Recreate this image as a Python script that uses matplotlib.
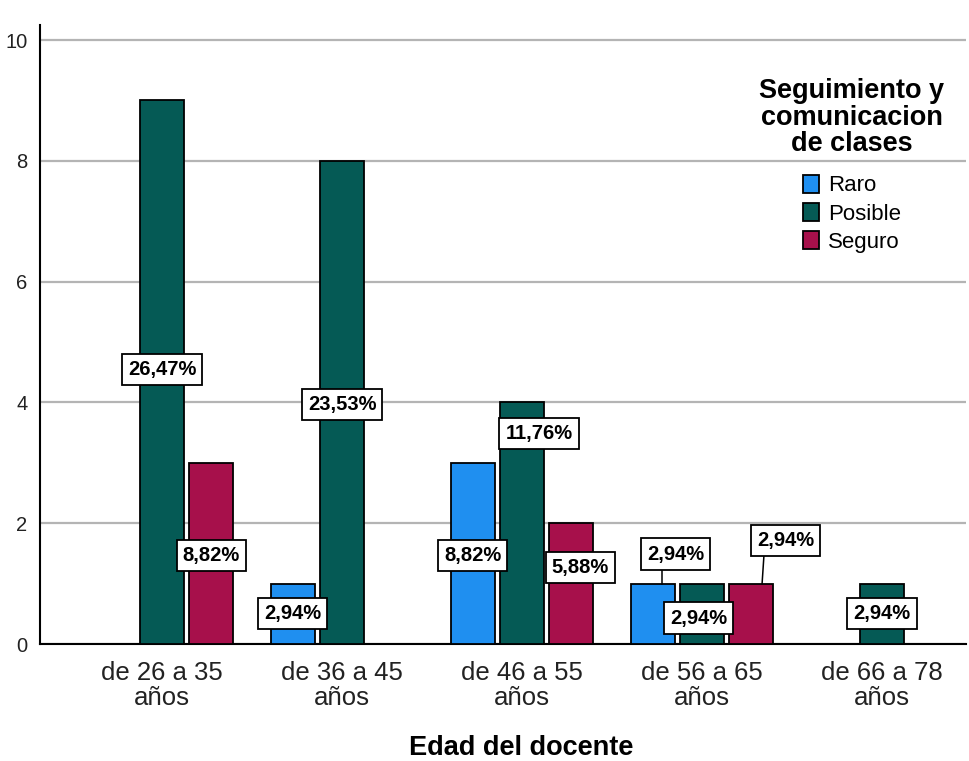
import matplotlib
matplotlib.use("Agg")
import matplotlib.pyplot as plt
import numpy as np
from matplotlib.patches import Patch

categories = ["de 26 a 35\naños", "de 36 a 45\naños", "de 46 a 55\naños",
              "de 56 a 65\naños", "de 66 a 78\naños"]
series_names = ["Raro", "Posible", "Seguro"]
raro = [0, 1, 3, 1, 0]
posible = [9, 8, 4, 1, 1]
seguro = [3, 0, 2, 1, 0]
percent_labels = {
    "Raro": ["", "2,94%", "8,82%", "2,94%", ""],
    "Posible": ["26,47%", "23,53%", "11,76%", "2,94%", "2,94%"],
    "Seguro": ["8,82%", "", "5,88%", "2,94%", ""],
}
legend_title = "Seguimiento y\ncomunicacion\nde clases"
x_title = "Edad del docente"
y_ticks = [0, 2, 4, 6, 8, 10]

# ---- styling / layout ----
colors = {"Raro": "#1f8ff0", "Posible": "#055a55", "Seguro": "#a7104b"}
bar_w = 0.245
stride = 0.274
offsets = {"Raro": -stride, "Posible": 0.0, "Seguro": stride}
# label placement (dx relative to bar centre in group units, y in data units)
label_pos = {
    ("Posible", 0): (0.0, 4.54), ("Seguro", 0): (0.0, 1.46),
    ("Raro", 1): (0.0, 0.51), ("Posible", 1): (0.0, 3.97),
    ("Raro", 2): (0.0, 1.46), ("Posible", 2): (0.094, 3.48), ("Seguro", 2): (0.05, 1.26),
    ("Raro", 3): (0.128, 1.49), ("Posible", 3): (-0.02, 0.43), ("Seguro", 3): (0.19, 1.72),
    ("Posible", 4): (0.0, 0.5),
}
leaders = {("Raro", 3): ((0.05, 1.23), (0.05, 1.0)), ("Seguro", 3): ((0.07, 1.45), (0.06, 1.0))}

plt.rcParams['font.family'] = ['Liberation Sans', 'DejaVu Sans']
fig = plt.figure(figsize=(9.69, 7.61), dpi=100)
ax = fig.add_axes([40/969, 117/761, 926/969, 619/761])

values = {"Raro": raro, "Posible": posible, "Seguro": seguro}
x = np.arange(len(categories))
for name in series_names:
    v = np.array(values[name], dtype=float)
    mask = v > 0
    ax.bar(x[mask] + offsets[name], v[mask], width=bar_w, color=colors[name],
           edgecolor="black", linewidth=1.3, zorder=3)

for (name, i), (dx, yy) in label_pos.items():
    bx = i + offsets[name]
    if (name, i) in leaders:
        (x0, y0), (x1, y1) = leaders[(name, i)]
        ax.plot([bx + x0, bx + x1], [y0, y1 * values[name][i]], color="black", lw=1.1, zorder=4)
    ax.text(bx + dx, yy, percent_labels[name][i], ha="center", va="center",
            fontsize=14.5, fontweight="bold", zorder=5,
            bbox=dict(boxstyle="square,pad=0.3", fc="white", ec="black", lw=1.3))

ax.set_xlim(-0.678, 4.467)
ax.set_ylim(0, 10.25)
ax.set_yticks(y_ticks)
ax.set_xticks(x)
ax.set_xticklabels(categories, fontsize=18.5, color="#222222", linespacing=1.02)
ax.tick_params(axis="x", length=0, pad=12.5)
ax.tick_params(axis="y", length=0, pad=9, labelsize=14.5, labelcolor="#222222")
ax.yaxis.grid(True, color="#b4b4b4", linewidth=1.6)
ax.set_axisbelow(True)
for s in ["top", "right"]:
    ax.spines[s].set_visible(False)
for s in ["left", "bottom"]:
    ax.spines[s].set_linewidth(1.5)
    ax.spines[s].set_color("black")
ax.set_xlabel(x_title, fontsize=19.5, fontweight="bold")
ax.xaxis.set_label_coords((521 - 40) / 926, -(735 - 644) / 619)

handles = [Patch(facecolor=colors[n], edgecolor="black", linewidth=1.3) for n in series_names]
leg = ax.legend(handles, series_names, title=legend_title, frameon=False,
                fontsize=16, title_fontproperties={"size": 19.5, "weight": "bold"},
                loc="upper center", bbox_to_anchor=((852 - 40) / 926, 1.0 - 33 / 619),
                bbox_transform=ax.transAxes, handlelength=0.75, handleheight=0.9,
                handletextpad=0.4, labelspacing=0.28)
leg._legend_box.align = "center"
leg._legend_box.sep = 12.5
leg.get_title().set_linespacing(1.03)
leg.get_title().set_multialignment("center")

fig.savefig("out.png", dpi=100)
